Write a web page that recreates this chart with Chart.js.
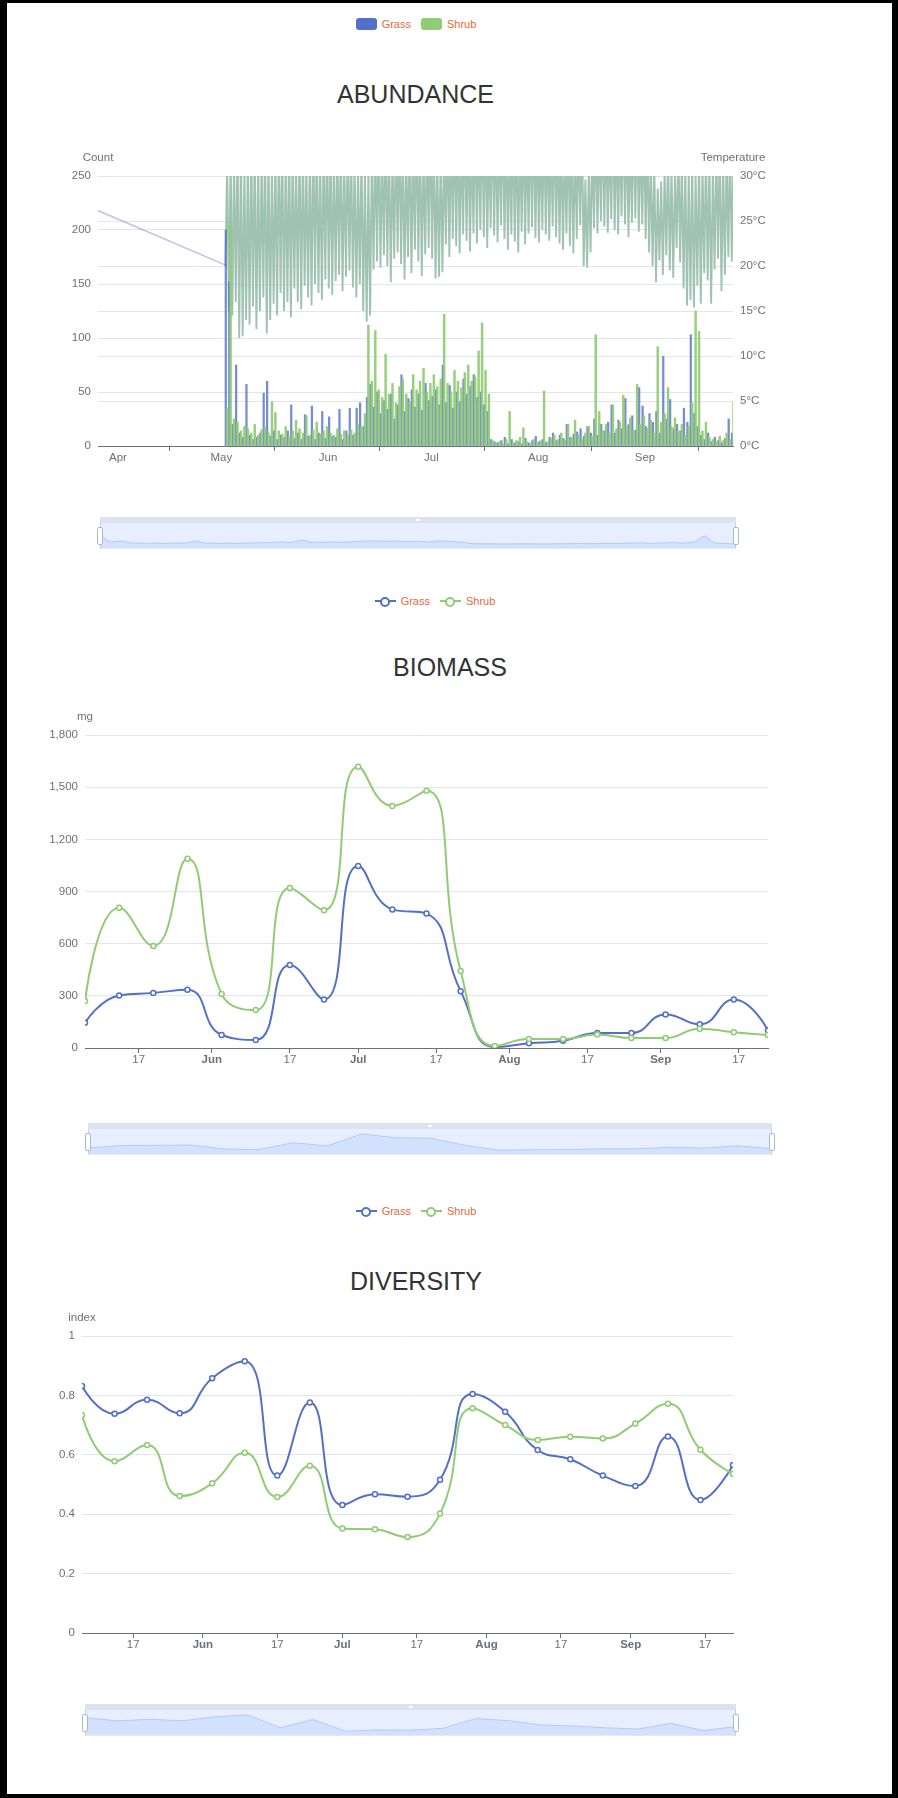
<!DOCTYPE html>
<html>
<head>
<meta charset="utf-8">
<title>Grass / Shrub monitoring</title>
<script src="https://cdn.jsdelivr.net/npm/chart.js@4.4.1/dist/chart.umd.min.js"></script>
<style>
  html, body { margin: 0; padding: 0; background: #fff; }
  body { position: relative; width: 898px; height: 1798px; overflow: hidden; font-family: "Liberation Sans", sans-serif; }
  .frame { position: absolute; left: 0; top: 0; width: 898px; height: 1798px; box-sizing: border-box;
           border: solid #000; border-width: 3px 6px 4px 7px; z-index: 10; pointer-events: none; }
  .title { position: absolute; left: 0; text-align: center; font: 25px "Liberation Sans", Arial, sans-serif;
           line-height: 25px; color: #333; }
  .legend { position: absolute; left: 0; height: 14px; display: flex; justify-content: center; align-items: center;
            font: 11px "Liberation Sans", sans-serif; line-height: 14px; color: #e3693a; }
  .legend span { display: flex; align-items: center; margin: 0 5px; }
  .legend .rect { width: 21px; height: 12px; border-radius: 3px; margin-right: 5px; }
  .legend .line { position: relative; width: 21px; height: 14px; margin-right: 5px; }
  .legend .line::before { content: ''; position: absolute; left: 0; right: 0; top: 6px; height: 2px; background: var(--c); }
  .legend .line::after { content: ''; position: absolute; left: 5.5px; top: 2.5px; width: 6px; height: 6px;
                         border: 2px solid var(--c); border-radius: 50%; background: #fff; }
  canvas.main { position: absolute; left: 0; }
  .slider { position: absolute; height: 32px; }
  .slider .grip { position: absolute; left: 0; right: 0; top: 0; height: 6px; background: #dce2f2; }
  .slider .grip::after { content: ''; position: absolute; left: 50%; top: 2px; width: 4px; height: 2px; margin-left: -2px; background: #fff; }
  .slider canvas { position: absolute; left: 0; top: 6px; background: rgba(135, 175, 255, 0.2); }
  .slider .edges { position: absolute; left: 0; right: 0; top: 6px; bottom: 0; box-sizing: border-box;
                   border-left: 1px solid #c6cfe6; border-right: 1px solid #c6cfe6; border-bottom: 1px solid #e3e9f6; }
  .slider .handle { position: absolute; top: 10px; width: 6px; height: 18px; box-sizing: border-box;
                    background: #fff; border: 1px solid #acb8d1; border-radius: 2px; }
</style>
</head>
<body>
<div class="frame"></div>

<div class="legend" style="top:17px;width:832px">
  <span><i class="rect" style="background:#5470c6"></i>Grass</span>
  <span><i class="rect" style="background:#91cc75"></i>Shrub</span>
</div>
<div class="title" style="top:82px;width:831px">ABUNDANCE</div>
<canvas class="main" id="abundance" width="898" height="320" style="top:150px"></canvas>
<div class="slider" style="left:100px;top:517px;width:636px">
  <div class="grip"></div>
  <canvas id="abundanceShadow" width="636" height="26"></canvas>
  <div class="edges"></div>
  <b class="handle" style="left:-3px"></b><b class="handle" style="right:-3px"></b>
</div>

<div class="legend" style="top:594px;width:870px">
  <span><i class="line" style="--c:#5470c6"></i>Grass</span>
  <span><i class="line" style="--c:#91cc75"></i>Shrub</span>
</div>
<div class="title" style="top:655px;width:900px">BIOMASS</div>
<canvas class="main" id="biomass" width="898" height="380" style="top:700px"></canvas>
<div class="slider" style="left:88px;top:1123px;width:684px">
  <div class="grip"></div>
  <canvas id="biomassShadow" width="684" height="26"></canvas>
  <div class="edges"></div>
  <b class="handle" style="left:-3px"></b><b class="handle" style="right:-3px"></b>
</div>

<div class="legend" style="top:1204px;width:832px">
  <span><i class="line" style="--c:#5470c6"></i>Grass</span>
  <span><i class="line" style="--c:#91cc75"></i>Shrub</span>
</div>
<div class="title" style="top:1269px;width:832px">DIVERSITY</div>
<canvas class="main" id="diversity" width="898" height="360" style="top:1300px"></canvas>
<div class="slider" style="left:85px;top:1704px;width:651px">
  <div class="grip"></div>
  <canvas id="diversityShadow" width="651" height="26"></canvas>
  <div class="edges"></div>
  <b class="handle" style="left:-3px"></b><b class="handle" style="right:-3px"></b>
</div>

<script>
// ---- abundance: daily values from 2 May (day-of-year 122) to 26 Sep ----
const firstDay = 122;

// daily low / high temperature, °C (highs above 30 run off the top of the axis)
const tempLow = [
  20.0, 15.0, 14.5, 16.0, 12.0, 12.2, 14.0, 13.5, 15.5, 13.0,
  15.0, 16.5, 12.5, 14.0, 15.8, 14.5, 17.0, 15.0, 16.0, 14.3,
  17.5, 16.0, 15.2, 17.8, 16.5, 15.6, 18.0, 17.0, 16.2, 18.5,
  17.5, 16.8, 18.3, 19.0, 17.2, 18.8, 19.5, 17.6, 16.5, 18.0,
  15.0, 13.8, 14.5, 19.6, 20.5, 19.8, 21.2, 20.0, 18.2, 20.8,
  21.5, 20.2, 18.5, 21.0, 19.2, 21.8, 20.5, 18.9, 21.3, 22.0,
  20.8, 18.6, 18.8, 19.3, 22.4, 21.0, 23.0, 22.2, 21.4, 23.5,
  22.8, 21.6, 23.6, 22.5, 24.0, 23.2, 22.0, 24.2, 23.4, 22.6,
  24.5, 23.0, 21.8, 23.5, 22.7, 21.5, 23.8, 22.4, 23.6, 24.3,
  23.1, 22.6, 24.0, 23.5, 22.8, 24.4, 23.2, 22.5, 21.8, 23.6,
  22.2, 21.4, 23.0, 24.5, 20.0, 19.8, 21.5, 24.2, 23.6, 25.0,
  24.4, 23.7, 25.2, 24.0, 23.5, 25.5, 24.6, 23.2, 24.8, 25.3,
  23.8, 24.6, 23.0, 21.5, 20.0, 18.2, 20.6, 19.0, 21.2, 19.5,
  18.7, 22.0, 20.4, 17.5, 15.6, 16.2, 15.4, 17.8, 15.8, 19.2,
  18.4, 15.8, 19.6, 20.8, 17.2, 19.0, 21.0, 20.5
];
const tempHigh = [
  31.5, 33.0, 32.0, 34.5, 33.0, 31.0, 32.5, 34.0, 33.5, 31.8,
  32.6, 34.2, 33.0, 31.4, 32.8, 35.0, 33.6, 32.2, 34.4, 33.0,
  32.0, 34.8, 33.5, 31.6, 33.2, 35.2, 34.0, 32.4, 33.8, 35.5,
  34.2, 32.8, 33.6, 35.0, 31.8, 34.6, 33.4, 32.0, 31.2, 33.0,
  30.8, 30.4, 32.6, 34.8, 35.6, 33.2, 36.0, 34.4, 32.6, 35.4,
  36.2, 34.0, 32.8, 35.8, 33.6, 36.4, 35.0, 33.0, 35.6, 36.8,
  35.2, 32.4, 33.0, 34.0, 36.0, 35.4, 37.0, 36.2, 35.0, 37.2,
  36.6, 35.0, 37.4, 36.0, 37.8, 36.8, 35.2, 37.6, 36.4, 35.6,
  37.0, 36.0, 34.8, 36.4, 35.8, 34.6, 36.8, 35.4, 36.2, 37.0,
  36.0, 35.2, 36.6, 36.0, 35.0, 36.8, 35.6, 34.8, 34.0, 35.8,
  34.6, 33.8, 35.4, 36.2, 29.6, 31.0, 33.6, 36.0, 35.4, 36.8,
  36.2, 35.6, 37.0, 35.8, 35.2, 37.2, 36.4, 34.8, 36.6, 37.0,
  35.4, 36.0, 34.4, 32.6, 31.2, 28.6, 29.4, 30.6, 32.8, 31.0,
  30.4, 33.6, 32.0, 31.2, 30.6, 31.8, 30.2, 32.4, 31.0, 33.2,
  32.0, 30.8, 33.4, 34.2, 31.6, 32.8, 34.0, 33.0
];

// daily peak counts
const grassPeak = [
  200, 152, 20, 75, 12, 8, 57, 10, 6, 8,
  12, 49, 60, 9, 14, 6, 10, 8, 14, 38,
  7, 12, 6, 29, 9, 37, 6, 12, 32, 7,
  27, 9, 8, 34, 6, 14, 35, 10, 35, 40,
  18, 45, 57, 36, 50, 30, 42, 34, 48, 25,
  38, 66, 32, 44, 52, 36, 48, 33, 58, 42,
  46, 52, 38, 75, 40, 56, 35, 50, 41, 62,
  48, 55, 66, 45, 50, 38, 32, 6, 4, 3,
  5, 8, 2, 6, 3, 4, 2, 7, 3, 5,
  9, 4, 6, 3, 8, 12, 5, 10, 7, 20,
  8, 11, 13, 16, 9, 18, 12, 25, 10, 20,
  14, 22, 38, 12, 24, 16, 44, 20, 28, 15,
  54, 37, 18, 30, 22, 32, 12, 83, 25, 43,
  16, 20, 14, 35, 22, 103, 30, 18, 10, 6,
  12, 4, 8, 5, 3, 7, 25, 12
];
const shrubPeak = [
  35, 208, 25, 22, 14, 18, 16, 12, 20, 10,
  15, 18, 12, 41, 31, 14, 11, 18, 9, 14,
  24, 16, 12, 28, 10, 15, 22, 11, 14, 18,
  12, 10, 16, 11, 14, 10, 15, 12, 20, 18,
  30, 112, 60, 107, 52, 45, 85, 48, 58, 40,
  55, 62, 48, 40, 66, 52, 60, 72, 50, 58,
  66, 55, 62, 122, 58, 50, 70, 60, 54, 68,
  75, 60, 64, 88, 114, 70, 48, 5, 3, 4,
  2, 6, 32, 3, 5, 8, 17, 4, 2, 6,
  3, 5, 51, 4, 7, 10, 6, 12, 5, 20,
  8, 24, 10, 6, 12, 18, 9, 103, 32, 14,
  20, 12, 38, 16, 22, 47, 18, 26, 14, 57,
  20, 28, 16, 24, 12, 92, 22, 30, 54, 18,
  26, 14, 20, 10, 18, 40, 125, 106, 14, 22,
  8, 6, 4, 9, 5, 12, 6, 41
];

// the lone March reading and the first May reading of the grass trap
const grassEarlyDays = [85.2, 122.6];
const grassEarlyCounts = [218, 167];

// grass counts as sampled along the zoom slider
const grassShadow = [
  111, 30, 44, 15, 10, 13, 9, 14, 12, 44, 13, 10, 12, 9, 14, 18, 20, 27, 22, 58,
  25, 27, 30, 24, 35, 40, 44, 38, 42, 35, 40, 30, 44, 36, 30, 8, 4, 5, 3, 4,
  5, 4, 3, 6, 5, 10, 6, 8, 12, 9, 14, 18, 10, 16, 20, 14, 25, 111, 18, 8, 6
];

const abundanceMonths = [91, 121, 152, 182, 213, 244];

// ---- weekly samples (6 May .. 23 Sep), day-of-year ----
const sampleDays = [126, 133, 140, 147, 154, 161, 168, 175, 182, 189, 196, 203, 210, 217, 224, 231, 238, 245, 252, 259, 266];
const biomassGrass = [145, 302, 317, 335, 75, 46, 478, 279, 1046, 797, 773, 327, 5, 27, 42, 86, 86, 193, 136, 279, 101];
const biomassShrub = [270, 807, 587, 1088, 310, 218, 920, 792, 1618, 1392, 1480, 443, 11, 52, 52, 78, 57, 57, 111, 90, 75];
const diversityGrass = [0.832, 0.738, 0.785, 0.740, 0.858, 0.915, 0.530, 0.776, 0.431, 0.467, 0.459, 0.516, 0.805, 0.745, 0.616, 0.585, 0.530, 0.495, 0.662, 0.448, 0.566];
const diversityShrub = [0.733, 0.578, 0.633, 0.461, 0.504, 0.607, 0.458, 0.563, 0.352, 0.349, 0.323, 0.402, 0.757, 0.700, 0.650, 0.661, 0.655, 0.705, 0.772, 0.617, 0.536];
const weeklyTicks = [137, 152, 168, 182, 198, 213, 229, 244, 260];

const monthStart = { 91: 'Apr', 121: 'May', 152: 'Jun', 182: 'Jul', 213: 'Aug', 244: 'Sep' };

const BLUE = '#5470c6';
const GREEN = '#91cc75';
const AXIS = '#6e7079';
const SPLIT = '#e0e6f1';
const FONT = '"Liberation Sans", sans-serif';
const FONT_SIZE = 11.5;

Chart.defaults.font.family = FONT;
Chart.defaults.font.size = FONT_SIZE;
Chart.defaults.color = AXIS;

// y-axis names written horizontally above the axes
const axisNames = {
  id: 'axisNames',
  afterDraw(chart, args, opts) {
    const ctx = chart.ctx;
    ctx.save();
    ctx.font = FONT_SIZE + 'px ' + FONT;
    ctx.fillStyle = AXIS;
    ctx.textAlign = 'center';
    ctx.textBaseline = 'middle';
    for (const n of opts.names || []) {
      const s = chart.scales[n.axis];
      const x = s.position === 'right' ? s.left : s.right;
      ctx.fillText(n.text, x, chart.chartArea.top - opts.gap);
    }
    ctx.restore();
  }
};

// smooth curves whose control points stay inside the box of neighbouring points (no overshoot)
const boxedSmooth = {
  id: 'boxedSmooth',
  beforeDatasetDraw(chart, args) {
    const meta = args.meta;
    if (meta.type !== 'line' || !meta.dataset) return;
    const pts = meta.data;
    const n = pts.length;
    if (n < 3) return;
    const k = 0.5;
    const clamp = (v, a, b) => Math.max(Math.min(v, Math.max(a, b)), Math.min(a, b));
    pts[0].cp2x = pts[0].x;
    pts[0].cp2y = pts[0].y;
    for (let i = 1; i < n; i++) {
      const p = pts[i], prev = pts[i - 1];
      if (i === n - 1) { p.cp1x = p.x; p.cp1y = p.y; break; }
      const next = pts[i + 1];
      const lenPrev = Math.hypot(p.x - prev.x, p.y - prev.y);
      const lenNext = Math.hypot(next.x - p.x, next.y - p.y);
      const ratio = lenNext / (lenNext + lenPrev);
      let vx = next.x - prev.x, vy = next.y - prev.y;
      const nx = clamp(p.x + vx * k * ratio, next.x, p.x);
      const ny = clamp(p.y + vy * k * ratio, next.y, p.y);
      vx = nx - p.x; vy = ny - p.y;
      const cx = clamp(p.x - vx * lenPrev / lenNext, prev.x, p.x);
      const cy = clamp(p.y - vy * lenPrev / lenNext, prev.y, p.y);
      p.cp1x = cx; p.cp1y = cy;
      p.cp2x = p.x + (p.x - cx) * lenNext / lenPrev;
      p.cp2y = p.y + (p.y - cy) * lenNext / lenPrev;
    }
    meta.dataset._pointsUpdated = true;
    meta.dataset._path = undefined;
  }
};

function dateAxis(min, max, ticks, boldMonths) {
  return {
    type: 'linear', min, max, offset: false,
    afterBuildTicks: s => { s.ticks = ticks.map(v => ({ value: v })); },
    ticks: {
      autoSkip: false, maxRotation: 0, padding: 0, color: AXIS,
      font: c => ({ family: FONT, size: FONT_SIZE, weight: boldMonths && monthStart[c.tick && c.tick.value] ? 'bold' : 'normal' }),
      callback: v => monthStart[v] || '17'
    },
    grid: { drawOnChartArea: false, drawTicks: true, tickLength: 5, color: AXIS },
    border: { display: true, color: AXIS }
  };
}

function valueAxis(min, max, step, width, side, fmt) {
  return {
    position: side, min, max,
    ticks: { stepSize: step, padding: 7, color: AXIS, callback: fmt || (v => v.toLocaleString('en-US')) },
    grid: { color: SPLIT, drawTicks: false },
    border: { display: false },
    afterFit: s => { s.width = width; }
  };
}

const baseOptions = {
  responsive: false,
  animation: false,
  events: [],
  plugins: { legend: { display: false }, tooltip: { enabled: false } }
};

// ---- ABUNDANCE ----
const tempPoints = [];
tempLow.forEach((lo, i) => {
  tempPoints.push({ x: firstDay + i + 0.2, y: lo });
  tempPoints.push({ x: firstDay + i + 0.7, y: tempHigh[i] });
});

const abundanceX = dateAxis(85.2, 269.55, abundanceMonths, false);
abundanceX.afterFit = s => { s.height = 24; };

new Chart(document.getElementById('abundance'), {
  type: 'line',
  data: {
    datasets: [
      {
        label: 'Shrub', type: 'bar', yAxisID: 'y', order: 1, grouped: false,
        data: shrubPeak.map((v, i) => ({ x: firstDay + i + 0.7, y: v })),
        backgroundColor: 'rgba(145,204,117,0.95)', borderWidth: 0, barThickness: 1.8
      },
      {
        label: 'Grass', type: 'bar', yAxisID: 'y', order: 2, grouped: false,
        data: grassPeak.map((v, i) => ({ x: firstDay + i + 0.3, y: v })),
        backgroundColor: 'rgba(84,112,198,0.8)', borderWidth: 0, barThickness: 1.6
      },
      {
        label: 'Grass early', yAxisID: 'y', order: 3,
        data: grassEarlyDays.map((d, i) => ({ x: d, y: grassEarlyCounts[i] })),
        borderColor: 'rgba(84,112,198,0.4)', borderWidth: 1.5, pointRadius: 0, tension: 0
      },
      {
        label: 'Temperature', yAxisID: 'y1', order: 4,
        data: tempPoints,
        borderColor: 'rgb(160,194,178)', borderWidth: 1.9, pointRadius: 0, tension: 0
      }
    ]
  },
  options: {
    ...baseOptions,
    layout: { padding: { top: 26, left: 0, right: 0, bottom: 0 } },
    plugins: { ...baseOptions.plugins, axisNames: { gap: 18, names: [{ axis: 'y', text: 'Count' }, { axis: 'y1', text: 'Temperature' }] } },
    scales: {
      x: abundanceX,
      y: valueAxis(0, 250, 50, 98, 'left'),
      y1: valueAxis(0, 30, 5, 165, 'right', v => v + '°C')
    }
  },
  plugins: [axisNames]
});

// ---- BIOMASS / DIVERSITY ----
function weeklyChart(id, grass, shrub, yMax, yStep, left, rightPad, top, xHeight, yName) {
  const x = dateAxis(sampleDays[0], sampleDays[sampleDays.length - 1], weeklyTicks, true);
  x.afterFit = s => { s.height = xHeight; };
  const line = (label, values, color, order) => ({
    label, order,
    data: values.map((v, i) => ({ x: sampleDays[i], y: v })),
    borderColor: color, borderWidth: 2, tension: 0.5,
    pointRadius: 2.5, pointBorderWidth: 1.5, pointBackgroundColor: '#fff', pointBorderColor: color
  });
  new Chart(document.getElementById(id), {
    type: 'line',
    data: { datasets: [line('Grass', grass, BLUE, 2), line('Shrub', shrub, GREEN, 1)] },
    options: {
      ...baseOptions,
      layout: { padding: { top, left: 0, right: rightPad, bottom: 0 } },
      plugins: { ...baseOptions.plugins, axisNames: { gap: 18, names: [{ axis: 'y', text: yName }] } },
      scales: { x, y: valueAxis(0, yMax, yStep, left, 'left') }
    },
    plugins: [axisNames, boxedSmooth]
  });
}

weeklyChart('biomass', biomassGrass, biomassShrub, 1800, 300, 85, 130, 35, 32, 'mg');
weeklyChart('diversity', diversityGrass, diversityShrub, 1, 0.2, 82, 165, 36, 27, 'index');

// ---- zoom slider data shadows (first series, padded 30% of its range above and below) ----
function shadow(id, values, extent) {
  const pad = (extent[1] - extent[0]) * 0.3;
  new Chart(document.getElementById(id), {
    type: 'line',
    data: {
      datasets: [{
        data: values.map((v, i) => ({ x: i, y: v })),
        borderColor: 'rgba(143,176,247,0.55)', borderWidth: 1,
        backgroundColor: 'rgba(143,176,247,0.22)', fill: 'start',
        pointRadius: 0, tension: 0
      }]
    },
    options: {
      ...baseOptions,
      layout: { padding: 0 },
      scales: {
        x: { type: 'linear', display: false, min: 0, max: values.length - 1 },
        y: { display: false, min: extent[0] - pad, max: extent[1] + pad }
      }
    }
  });
}

const extentOf = arr => [Math.min(...arr), Math.max(...arr)];
shadow('abundanceShadow', grassShadow, [0, Math.max(...grassPeak, ...grassEarlyCounts)]);
shadow('biomassShadow', biomassGrass, extentOf(biomassGrass));
shadow('diversityShadow', diversityGrass, extentOf(diversityGrass));
</script>
</body>
</html>
